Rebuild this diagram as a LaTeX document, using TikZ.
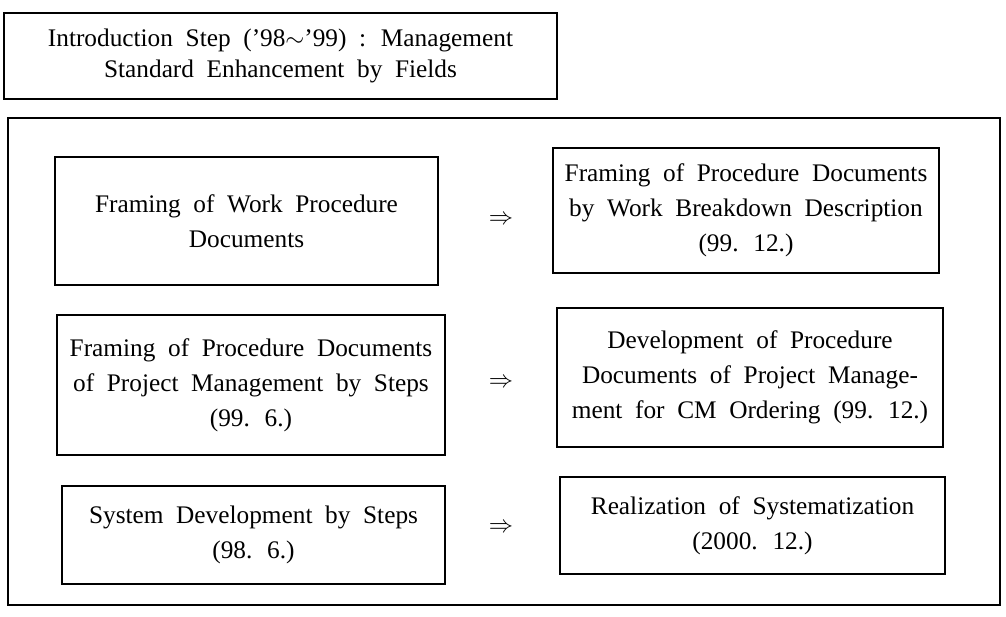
\documentclass[tikz,border=0pt]{standalone}
\usepackage{fontspec}
\setmainfont{Liberation Serif}
\usepackage{tikz}
\newcommand\boxfont{\fontsize{18}{25}\selectfont\spaceskip=0.5em plus 0.2em minus 0.1em\relax}
\newcommand\headfont{\fontsize{18}{22}\selectfont\spaceskip=0.5em plus 0.2em minus 0.1em\relax}

\begin{document}
\begin{tikzpicture}[
    stepbox/.style={draw, line width=0.8pt, align=center, inner sep=2pt, font=\boxfont},
    goes/.style={font=\fontsize{16}{18}\selectfont, inner sep=0pt}
  ]
            % fix the page size
            \useasboundingbox (0,0) rectangle (25.15,15.4);

            % title and frame
            \node[stepbox, minimum width=13.825cm, minimum height=2.15cm, font=\headfont] (title) at (7.0125,14.0)
                {Introduction Step (’98$\sim$’99) : Management\\ Standard Enhancement by Fields};
            \draw[line width=0.8pt] (0.2,0.275) rectangle (25.0,12.45);

            % left column
            \node[stepbox, minimum width=9.575cm, minimum height=3.2cm] (a1) at (6.1625,9.875)
                {Framing of Work Procedure\\ Documents};
            \node[stepbox, minimum width=9.7cm, minimum height=3.5cm] (a2) at (6.275,5.775)
                {Framing of Procedure Documents\\ of Project Management by Steps\\ (99. 6.)};
            \node[stepbox, minimum width=9.575cm, minimum height=2.45cm] (a3) at (6.3375,2.025)
                {System Development by Steps\\ (98. 6.)};

            % right column
            \node[stepbox, minimum width=9.65cm, minimum height=3.125cm] (b1) at (18.65,10.1375)
                {Framing of Procedure Documents\\ by Work Breakdown Description\\ (99. 12.)};
            \node[stepbox, minimum width=9.65cm, minimum height=3.475cm] (b2) at (18.75,5.9625)
                {Development of Procedure\\ Documents of Project Manage-\\ ment for CM Ordering (99. 12.)};
            \node[stepbox, minimum width=9.625cm, minimum height=2.425cm] (b3) at (18.8125,2.2625)
                {Realization of Systematization\\ (2000. 12.)};

            % arrows between the columns
            \node[goes] (g1) at (12.525,9.9) {$\Rightarrow$};
            \node[goes] (g2) at (12.525,5.825) {$\Rightarrow$};
            \node[goes] (g3) at (12.525,2.2) {$\Rightarrow$};
\end{tikzpicture}
\end{document}
